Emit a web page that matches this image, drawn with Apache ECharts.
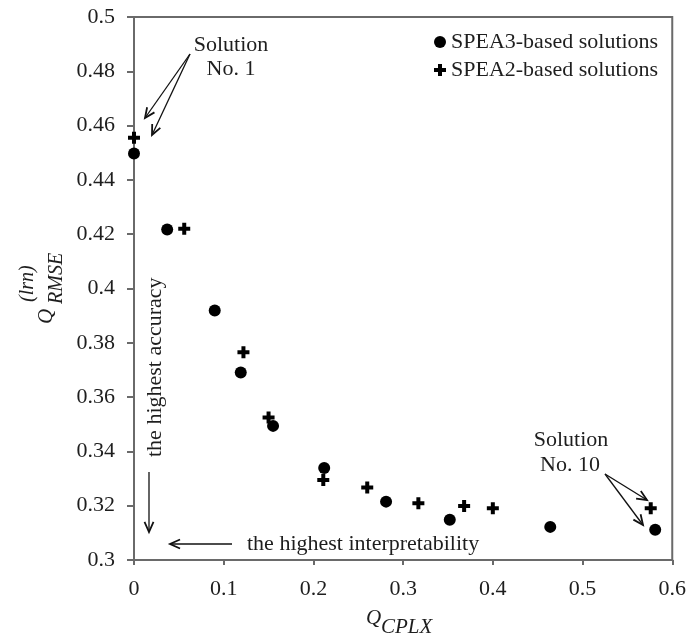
<!DOCTYPE html>
<html>
<head>
<meta charset="utf-8">
<script src="https://cdn.jsdelivr.net/npm/echarts@6/dist/echarts.min.js"></script>
<style>
html,body{margin:0;padding:0;background:#fff;}
#chart{width:689px;height:638px;}
</style>
</head>
<body>
<div id="chart"></div>
<script>
// Data
var spea3X = [0, 0.037, 0.090, 0.119, 0.155, 0.212, 0.281, 0.352, 0.464, 0.581];
var spea3Y = [0.4497, 0.4217, 0.3919, 0.3691, 0.3494, 0.3339, 0.3215, 0.3148, 0.3122, 0.3111];
var spea2X = [0, 0.056, 0.122, 0.150, 0.211, 0.260, 0.317, 0.368, 0.400, 0.576];
var spea2Y = [0.4555, 0.4220, 0.3765, 0.3525, 0.3295, 0.3267, 0.3209, 0.3199, 0.3191, 0.3191];
var seriesNames = ['SPEA3-based solutions', 'SPEA2-based solutions'];
var xMin = 0, xMax = 0.6, xStep = 0.1;
var yMin = 0.3, yMax = 0.5, yStep = 0.02;

function zip(a, b) { return a.map(function (v, i) { return [v, b[i]]; }); }

var FONT = '"Liberation Serif", "Times New Roman", serif';
var TXT = '#1e1e1e';
var AX = '#6a6a6a';
var PLUS = 'path://M4,0H8V4H12V8H8V12H4V8H0V4H4Z';

function arrow(x1, y1, x2, y2) {
  var ang = Math.atan2(y2 - y1, x2 - x1);
  var L = 11, a = 0.42;
  var p1 = [x2 - L * Math.cos(ang - a), y2 - L * Math.sin(ang - a)];
  var p2 = [x2 - L * Math.cos(ang + a), y2 - L * Math.sin(ang + a)];
  return [
    { type: 'line', shape: { x1: x1, y1: y1, x2: x2, y2: y2 }, style: { stroke: '#111', lineWidth: 1.3 }, z: 100 },
    { type: 'polyline', shape: { points: [p1, [x2, y2], p2] }, style: { stroke: '#111', lineWidth: 1.8, fill: null }, z: 100 }
  ];
}

function txt(s, x, y, opts) {
  opts = opts || {};
  return {
    type: 'text', x: x, y: y, rotation: opts.rot || 0, z: 100,
    style: {
      text: s, fill: TXT,
      font: (opts.italic ? 'italic ' : '') + (opts.size || 22) + 'px ' + FONT,
      textAlign: opts.align || 'center', textVerticalAlign: 'middle'
    }
  };
}

var graphics = [];
graphics = graphics.concat(
  arrow(190, 54, 145, 118),
  arrow(190, 54, 152, 135),
  arrow(605, 474, 647, 500),
  arrow(605, 474, 643, 525),
  arrow(149, 472, 149, 532),
  arrow(232, 544, 170, 544)
);
graphics.push(txt('Solution', 231, 45));
graphics.push(txt('No. 1', 231, 69));
graphics.push(txt('Solution', 571, 440));
graphics.push(txt('No. 10', 570, 465));
graphics.push(txt('the highest accuracy', 155, 457, { rot: Math.PI / 2, align: 'left' }));
graphics.push(txt('the highest interpretability', 247, 544, { align: 'left' }));
// x axis name Q_CPLX
graphics.push(txt('Q', 366, 618, { italic: true, size: 21, align: 'left' }));
graphics.push(txt('CPLX', 381, 627, { italic: true, size: 21, align: 'left' }));
// y axis name Q_RMSE^(lrn)
graphics.push(txt('Q', 46, 324, { italic: true, size: 21, align: 'left', rot: Math.PI / 2 }));
graphics.push(txt('RMSE', 57, 304, { italic: true, size: 20, align: 'left', rot: Math.PI / 2 }));
graphics.push(txt('(lrn)', 28, 302, { italic: true, size: 20, align: 'left', rot: Math.PI / 2 }));

var chart = echarts.init(document.getElementById('chart'), null, { renderer: 'canvas' });
chart.setOption({
  backgroundColor: '#fff',
  animation: false,
  grid: { left: 134, right: 14, top: 17, bottom: 78, show: true, borderColor: AX, borderWidth: 2, backgroundColor: 'transparent' },
  legend: {
    orient: 'vertical', left: 429, top: 26,
    itemWidth: 12, itemHeight: 12, itemGap: 6,
    textStyle: { fontFamily: FONT, fontSize: 22, color: TXT, lineHeight: 22 },
    data: seriesNames
  },
  xAxis: {
    type: 'value', min: xMin, max: xMax, interval: xStep,
    axisLine: { lineStyle: { color: AX, width: 2 } },
    axisTick: { show: true, length: 5, inside: false, lineStyle: { color: AX, width: 2 } },
    axisLabel: { fontFamily: FONT, fontSize: 22, color: TXT, margin: 18 },
    splitLine: { show: false }
  },
  yAxis: {
    type: 'value', min: yMin, max: yMax, interval: yStep,
    axisLine: { show: true, lineStyle: { color: AX, width: 2 } },
    axisTick: { show: true, length: 7, inside: false, lineStyle: { color: AX, width: 2 } },
    axisLabel: { fontFamily: FONT, fontSize: 22, color: TXT, margin: 19 },
    splitLine: { show: false }
  },
  series: [
    { name: seriesNames[0], type: 'scatter', symbol: 'circle', symbolSize: 12, itemStyle: { color: '#000', opacity: 1 }, data: zip(spea3X, spea3Y), z: 3 },
    { name: seriesNames[1], type: 'scatter', symbol: PLUS, symbolSize: 12, itemStyle: { color: '#000', opacity: 1 }, data: zip(spea2X, spea2Y), z: 4 }
  ],
  graphic: graphics
});
</script>
</body>
</html>
